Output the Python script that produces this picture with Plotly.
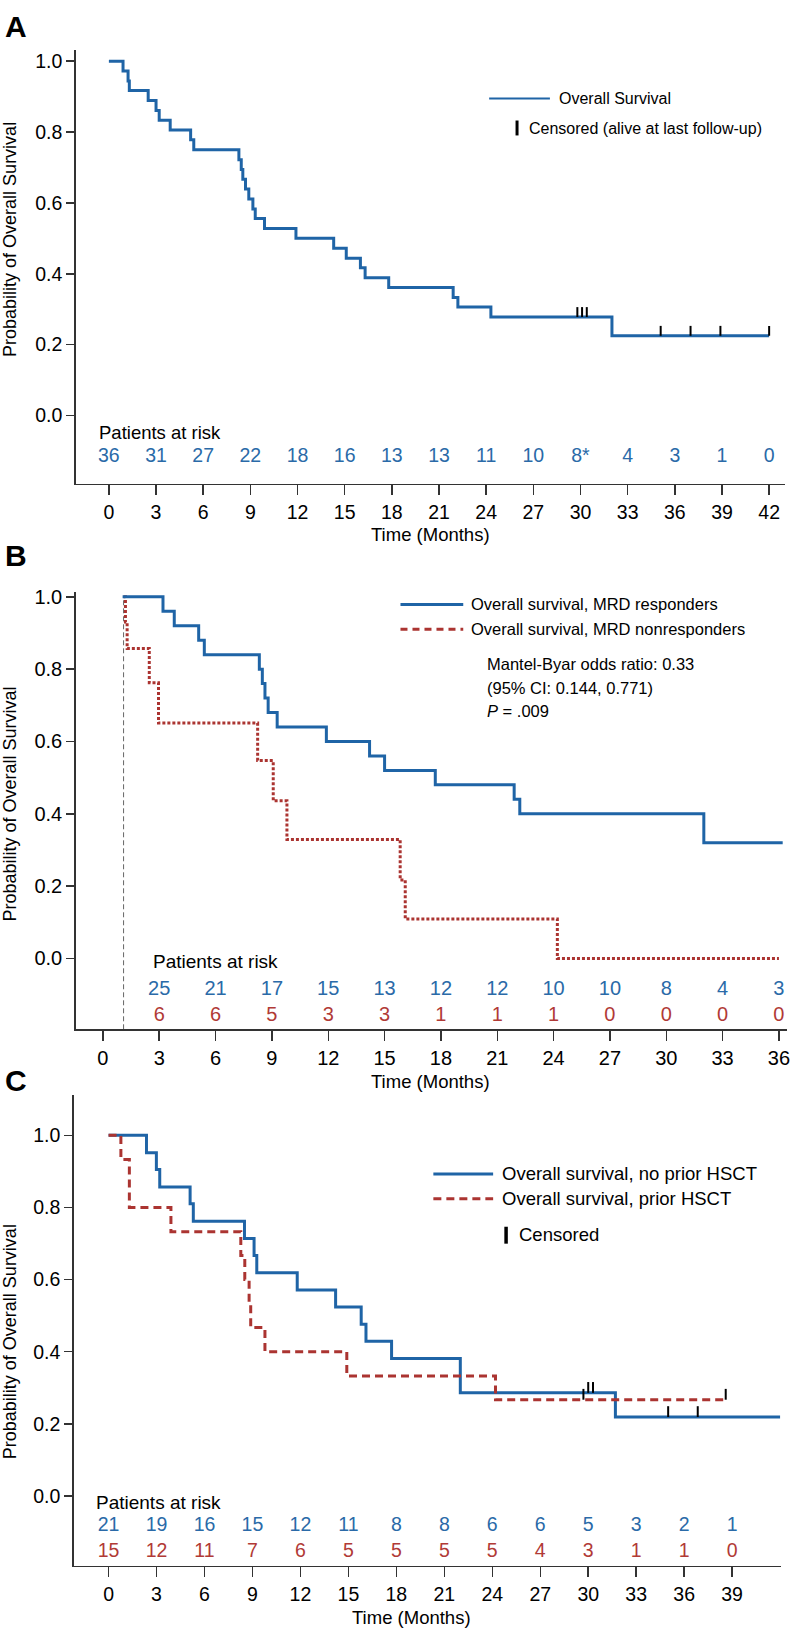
import plotly.graph_objects as go

W, H = 794, 1630
NARROW = "Liberation Sans, Arial, sans-serif"
REG = "Liberation Sans, Arial, sans-serif"
BLUE = "#1f64a6"
BLUE_T = "#2a6aa8"
RED = "#ab3431"
RED_T = "#b13a36"
AX = "#333333"

# ---------------- data: panel A ----------------
a_time = [0, 0.9, 1.22, 1.3, 2.5, 3.0, 3.2, 3.9, 5.2, 5.4, 8.27, 8.42, 8.52, 8.69, 8.90,
          9.16, 9.31, 9.90, 11.9, 14.3, 15.1, 16.0, 16.3, 17.8, 21.9, 22.2, 24.3, 32.0, 42.0]
a_surv = [1.0, 0.972, 0.944, 0.917, 0.889, 0.861, 0.833, 0.806, 0.778, 0.75, 0.722, 0.694,
          0.667, 0.639, 0.611, 0.583, 0.556, 0.528, 0.5, 0.472, 0.444, 0.417, 0.389, 0.361,
          0.333, 0.306, 0.278, 0.225, 0.225]
a_cens_t = [29.8, 30.1, 30.4, 35.1, 37.0, 38.9, 42.0]
a_cens_s = [0.278, 0.278, 0.278, 0.225, 0.225, 0.225, 0.225]
a_risk_t = [0, 3, 6, 9, 12, 15, 18, 21, 24, 27, 30, 33, 36, 39, 42]
a_risk_n = ["36", "31", "27", "22", "18", "16", "13", "13", "11", "10", "8*", "4", "3", "1", "0"]
a_xticks = [0, 3, 6, 9, 12, 15, 18, 21, 24, 27, 30, 33, 36, 39, 42]

# ---------------- data: panel B ----------------
b_resp_t = [1.05, 3.2, 3.8, 5.1, 5.4, 8.33, 8.49, 8.63, 8.8, 9.28, 11.9, 14.2, 15.0, 17.7,
            21.9, 22.2, 32.0, 36.2]
b_resp_s = [1.0, 0.96, 0.92, 0.88, 0.84, 0.80, 0.76, 0.72, 0.68, 0.64, 0.60, 0.56, 0.52,
            0.48, 0.44, 0.40, 0.32, 0.32]
b_non_t = [1.1, 1.2, 1.29, 2.47, 2.96, 8.24, 9.07, 9.8, 15.83, 16.1, 24.2, 36.0]
b_non_s = [1.0, 0.93, 0.857, 0.762, 0.651, 0.547, 0.436, 0.329, 0.217, 0.109, 0.0, 0.0]
b_landmark = 1.1
b_risk_t = [3, 6, 9, 12, 15, 18, 21, 24, 27, 30, 33, 36]
b_risk_resp = [25, 21, 17, 15, 13, 12, 12, 10, 10, 8, 4, 3]
b_risk_non = [6, 6, 5, 3, 3, 1, 1, 1, 0, 0, 0, 0]
b_xticks = [0, 3, 6, 9, 12, 15, 18, 21, 24, 27, 30, 33, 36]

# ---------------- data: panel C ----------------
c_no_t = [0, 2.37, 2.99, 3.2, 5.1, 5.3, 8.5, 9.1, 9.27, 11.8, 14.2, 15.8, 16.1, 17.7,
          22.0, 31.7, 42.0]
c_no_s = [1.0, 0.952, 0.905, 0.857, 0.810, 0.762, 0.714, 0.667, 0.619, 0.571, 0.524,
          0.476, 0.429, 0.381, 0.286, 0.219, 0.219]
c_pr_t = [0, 0.77, 1.3, 3.9, 8.27, 8.52, 8.79, 8.89, 9.78, 14.9, 24.2, 38.6]
c_pr_s = [1.0, 0.933, 0.80, 0.733, 0.667, 0.60, 0.533, 0.467, 0.40, 0.333, 0.267, 0.267]
c_no_cens_t = [30.0, 30.3, 35.0, 36.85]
c_no_cens_s = [0.286, 0.286, 0.219, 0.219]
c_pr_cens_t = [29.7, 38.6]
c_pr_cens_s = [0.267, 0.267]
c_risk_t = [0, 3, 6, 9, 12, 15, 18, 21, 24, 27, 30, 33, 36, 39]
c_risk_no = [21, 19, 16, 15, 12, 11, 8, 8, 6, 6, 5, 3, 2, 1]
c_risk_pr = [15, 12, 11, 7, 6, 5, 5, 5, 5, 4, 3, 1, 1, 0]
c_xticks = [0, 3, 6, 9, 12, 15, 18, 21, 24, 27, 30, 33, 36, 39]

y_ticks = [0.0, 0.2, 0.4, 0.6, 0.8, 1.0]


def px(x):
    return x / W


def py(y):
    return 1 - y / H


fig = go.Figure()


def step(xa, ya, t, s, color, dash=None, width=3):
    fig.add_trace(go.Scatter(x=t, y=s, mode="lines", line_shape="hv", xaxis=xa, yaxis=ya,
                             line=dict(color=color, width=width, dash=dash),
                             showlegend=False, hoverinfo="skip"))


def censor(xa, ya, t, s, h):
    xs, ys = [], []
    for ti, si in zip(t, s):
        xs += [ti, ti, None]
        ys += [si, si + h, None]
    fig.add_trace(go.Scatter(x=xs, y=ys, mode="lines", xaxis=xa, yaxis=ya,
                             line=dict(color="black", width=2),
                             showlegend=False, hoverinfo="skip"))


def risk_row(xa, ya, t, n, yv, color, size):
    fig.add_trace(go.Scatter(x=t, y=[yv] * len(t), mode="text", text=[str(v) for v in n],
                             textposition="middle center", xaxis=xa, yaxis=ya,
                             textfont=dict(family=NARROW, size=size, color=color),
                             cliponaxis=False, showlegend=False, hoverinfo="skip"))


# Panel A
step("x", "y", a_time, a_surv, BLUE)
censor("x", "y", a_cens_t, a_cens_s, 0.028)
risk_row("x", "y", a_risk_t, a_risk_n, -0.117, BLUE_T, 19.5)

# Panel B
fig.add_trace(go.Scatter(x=[b_landmark, b_landmark], y=[-0.196, 1.0], mode="lines",
                         xaxis="x2", yaxis="y2", line=dict(color="#666666", width=1, dash="5px,3px"),
                         showlegend=False, hoverinfo="skip"))
step("x2", "y2", b_non_t, b_non_s, RED, dash="3px,2px")
step("x2", "y2", b_resp_t, b_resp_s, BLUE)
risk_row("x2", "y2", b_risk_t, b_risk_resp, -0.087, BLUE_T, 20)
risk_row("x2", "y2", b_risk_t, b_risk_non, -0.160, RED_T, 20)

# Panel C
step("x3", "y3", c_no_t, c_no_s, BLUE)
step("x3", "y3", c_pr_t, c_pr_s, RED, dash="8px,5px")
censor("x3", "y3", c_no_cens_t, c_no_cens_s, 0.03)
censor("x3", "y3", c_pr_cens_t, c_pr_cens_s, 0.03)
risk_row("x3", "y3", c_risk_t, c_risk_no, -0.084, BLUE_T, 19.5)
risk_row("x3", "y3", c_risk_t, c_risk_pr, -0.155, RED_T, 19.5)


def xaxis(dom, rng, ticks, anchor, size):
    return dict(domain=[px(dom[0]), px(dom[1])], range=rng, anchor=anchor,
                tickvals=ticks, ticktext=[str(t) for t in ticks],
                showline=True, linecolor=AX, linewidth=1.5, ticks="outside", ticklen=10,
                tickwidth=1.5, tickcolor=AX, showgrid=False, zeroline=False,
                tickfont=dict(family=NARROW, size=size, color="black"), fixedrange=True)


def yaxis(dom, rng, anchor, size):
    return dict(domain=[py(dom[1]), py(dom[0])], range=rng, anchor=anchor,
                tickvals=y_ticks, ticktext=["%.1f" % v for v in y_ticks],
                showline=True, linecolor=AX, linewidth=1.5, ticks="outside", ticklen=8,
                tickwidth=1.5, tickcolor=AX, showgrid=False, zeroline=False,
                tickfont=dict(family=NARROW, size=size, color="black"), fixedrange=True)


annotations = []
shapes = []


def text(x, y, s, size, font=NARROW, xanchor="left", angle=0, color="black", bold=False):
    if bold:
        s = "<b>" + s + "</b>"
    annotations.append(dict(x=px(x), y=py(y), xref="paper", yref="paper", text=s,
                            showarrow=False, xanchor=xanchor, yanchor="middle",
                            textangle=angle, font=dict(family=font, size=size, color=color)))


def data_text(xa, ya, x, y, s, size):
    annotations.append(dict(x=x, y=y, xref=xa, yref=ya, text=s, showarrow=False,
                            xanchor="left", yanchor="middle",
                            font=dict(family=NARROW, size=size, color="black")))


def seg(x0, y0, x1, y1, color, width, dash=None):
    shapes.append(dict(type="line", xref="paper", yref="paper", x0=px(x0), y0=py(y0),
                       x1=px(x1), y1=py(y1), line=dict(color=color, width=width, dash=dash)))


# panel letters
text(16, 20, "A", 30, font=REG, xanchor="center", bold=True)
text(16, 551, "B", 30, font=REG, xanchor="center", bold=True)
text(16, 1078, "C", 30, font=REG, xanchor="center", bold=True)

# y titles
for yc in (233, 800, 1340):
    text(10, yc, "Probability of Overall Survival", 18, font=REG, xanchor="center", angle=-90)

# x titles
text(432, 530, "Time (Months)", 18.5, xanchor="center")
text(432, 1079, "Time (Months)", 18.5, xanchor="center")
text(413, 1617, "Time (Months)", 18.5, xanchor="center")

# patients at risk labels
data_text("x", "y", -0.75, -0.047, "Patients at risk", 18.5)
data_text("x2", "y2", 2.55, -0.008, "Patients at risk", 19)
data_text("x3", "y3", -0.9, -0.017, "Patients at risk", 19)

# legend A
seg(491, 92, 552, 92, BLUE, 2)
text(559, 92, "Overall Survival", 16)
seg(519, 114, 519, 129, "black", 3)
text(529, 122, "Censored (alive at last follow-up)", 16)

# legend B
seg(402, 600, 465, 600, BLUE, 3)
text(471, 600, "Overall survival, MRD responders", 16.5)
seg(402, 625, 465, 625, RED, 3, dash="7px,5px")
text(471, 625, "Overall survival, MRD nonresponders", 16.5)
text(487, 660, "Mantel-Byar odds ratio: 0.33", 16.5)
text(487, 684, "(95% CI: 0.144, 0.771)", 16.5)
text(487, 707, "<i>P</i> = .009", 16.5)

# legend C
seg(435, 1172, 495, 1172, BLUE, 3)
text(502, 1172, "Overall survival, no prior HSCT", 18.5)
seg(435, 1197, 495, 1197, RED, 3, dash="8px,5px")
text(502, 1197, "Overall survival, prior HSCT", 18.5)
seg(508, 1225, 508, 1242, "black", 3.5)
text(519, 1233, "Censored", 18.5)

fig.update_layout(
    width=W, height=H, margin=dict(l=0, r=0, t=0, b=0),
    paper_bgcolor="white", plot_bgcolor="white", showlegend=False,
    xaxis=xaxis((76, 788), [-2.11, 43.01], a_xticks, "y", 19.5),
    yaxis=yaxis((43, 479), [-0.193, 1.032], "x", 19.5),
    xaxis2=xaxis((76, 790), [-1.448, 36.43], b_xticks, "y2", 20),
    yaxis2=yaxis((588, 1026.7), [-0.196, 1.012], "x2", 20),
    xaxis3=xaxis((74, 784), [-2.18, 42.06], c_xticks, "y3", 19.5),
    yaxis3=yaxis((1093, 1565.7), [-0.194, 1.111], "x3", 19.5),
    annotations=annotations, shapes=shapes,
)

fig.write_html("out.html", config={"displayModeBar": False, "staticPlot": True},
               post_script="document.body.style.margin='0px';document.body.style.overflow='hidden';")
